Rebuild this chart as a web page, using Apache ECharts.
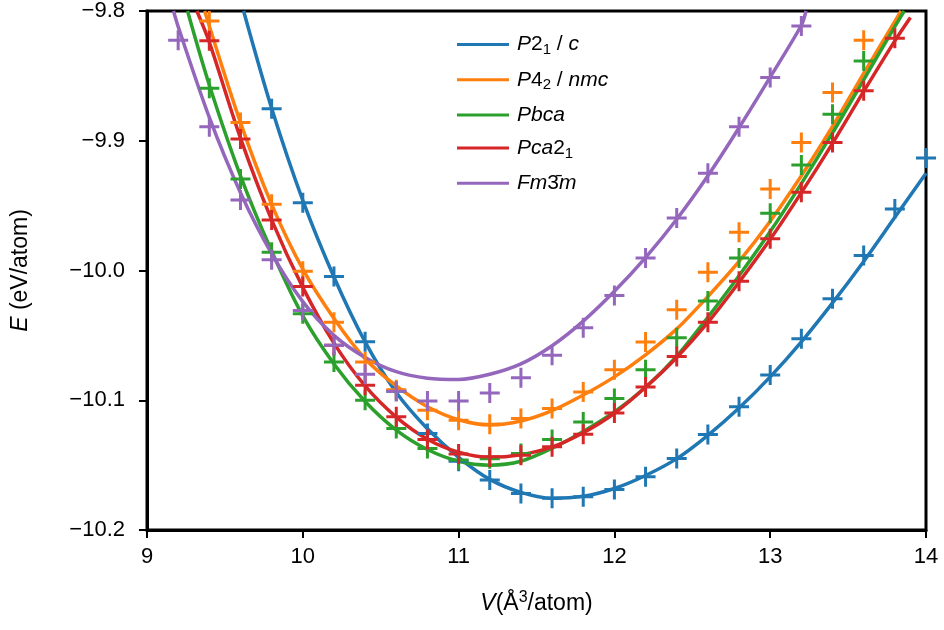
<!DOCTYPE html>
<html><head><meta charset="utf-8">
<script src="https://cdn.jsdelivr.net/npm/echarts@6/dist/echarts.min.js"></script>
<style>html,body{margin:0;padding:0;background:#fff}#c{width:944px;height:630px}</style>
</head><body><div id="c"></div>
<script>
// ---- data ----
const names = ['P21/c', 'P42/nmc', 'Pbca', 'Pca21', 'Fm-3m'];
const colors = ['#1f77b4', '#ff7f0e', '#2ca02c', '#d62728', '#9467bd'];
const legendLabels = [
  '{i|P}{n|2}{s|1}{n| / }{i|c}',
  '{i|P}{n|4}{s|2}{n| / }{i|nmc}',
  '{i|Pbca}',
  '{i|Pca}{n|2}{s|1}',
  '{i|Fm}{n|3\u0304}{i|m}'
];
const xTicks = [9, 10, 11, 12, 13, 14];
const yTicks = [-10.2, -10.1, -10.0, -9.9, -9.8];

// computed points (crosses)
const volumes = [9.2, 9.4, 9.6, 9.8, 10.0, 10.2, 10.4, 10.6, 10.8, 11.0, 11.2, 11.4, 11.6, 11.8, 12.0, 12.2, 12.4, 12.6, 12.8, 13.0, 13.2, 13.4, 13.6, 13.8, 14.0];
const ptsP21c = [null, null, null, -9.8754, -9.9477, -10.0046, -10.055, -10.093, -10.1256, -10.147, -10.1615, -10.1718, -10.1756, -10.1744, -10.1687, -10.159, -10.1449, -10.1264, -10.1051, -10.0805, -10.0526, -10.0218, -9.9885, -9.9526, -9.9133];
const ptsP42nmc = [null, -9.8077, -9.886, -9.949, -10.0005, -10.0398, -10.0705, -10.092, -10.1077, -10.1154, -10.1185, -10.114, -10.1064, -10.0936, -10.0764, -10.0551, -10.0302, -10.0013, -9.9705, -9.9372, -9.9013, -9.8628, -9.8226, null, null];
const ptsPbca = [null, -9.8595, -9.9295, -9.986, -10.0333, -10.0705, -10.1, -10.1218, -10.1372, -10.146, -10.145, -10.141, -10.1303, -10.1167, -10.0987, -10.0764, -10.0518, -10.0236, -9.9903, -9.9559, -9.9187, -9.8795, -9.8385, null, null];
const ptsPca21 = [null, -9.823, -9.8987, -9.961, -10.0123, -10.0577, -10.0885, -10.1128, -10.1303, -10.1415, -10.1436, -10.1423, -10.1359, -10.1262, -10.1098, -10.0897, -10.0662, -10.0398, -10.0083, -9.9756, -9.9397, -9.9013, -9.8615, -9.821, null];
const ptsFm3m = [-9.8226, -9.8892, -9.9456, -9.9918, -10.0308, -10.0577, -10.08, -10.093, -10.1005, -10.1005, -10.0944, -10.0826, -10.0654, -10.0441, -10.0192, -9.9903, -9.9595, -9.9251, -9.8892, -9.8513, -9.8115, null, null, null, null];

// fitted curves
const fitVP21c = [9.62, 9.8, 10.0, 10.2, 10.4, 10.6, 10.8, 11.0, 11.2, 11.4, 11.6, 11.8, 12.0, 12.2, 12.4, 12.6, 12.8, 13.0, 13.2, 13.4, 13.6, 13.8, 14.0];
const fitEP21c = [-9.800, -9.875, -9.946, -10.005, -10.055, -10.094, -10.122, -10.144, -10.161, -10.171, -10.1755, -10.174, -10.168, -10.158, -10.145, -10.127, -10.106, -10.082, -10.055, -10.025, -9.993, -9.959, -9.925];
const fitVP42nmc = [9.37, 9.6, 9.8, 10.0, 10.2, 10.4, 10.6, 10.8, 11.0, 11.2, 11.4, 11.6, 11.8, 12.0, 12.2, 12.4, 12.6, 12.8, 13.0, 13.2, 13.4, 13.6, 13.8, 13.84];
const fitEP42nmc = [-9.800, -9.886, -9.949, -9.999, -10.037, -10.068, -10.089, -10.105, -10.115, -10.119, -10.116, -10.108, -10.096, -10.082, -10.065, -10.045, -10.020, -9.993, -9.962, -9.927, -9.889, -9.848, -9.808, -9.800];
const fitVPbca = [9.26, 9.4, 9.6, 9.8, 10.0, 10.2, 10.4, 10.6, 10.8, 11.0, 11.2, 11.4, 11.6, 11.8, 12.0, 12.2, 12.4, 12.6, 12.8, 13.0, 13.2, 13.4, 13.6, 13.8, 13.86];
const fitEPbca = [-9.800, -9.857, -9.927, -9.985, -10.035, -10.072, -10.101, -10.123, -10.138, -10.147, -10.150, -10.147, -10.137, -10.124, -10.109, -10.090, -10.066, -10.036, -10.004, -9.970, -9.933, -9.894, -9.853, -9.812, -9.800];
const fitVPca21 = [9.32, 9.4, 9.6, 9.8, 10.0, 10.2, 10.4, 10.6, 10.8, 11.0, 11.2, 11.4, 11.6, 11.8, 12.0, 12.2, 12.4, 12.6, 12.8, 13.0, 13.2, 13.4, 13.6, 13.8, 13.9];
const fitEPca21 = [-9.800, -9.824, -9.898, -9.961, -10.013, -10.056, -10.089, -10.113, -10.130, -10.140, -10.144, -10.142, -10.136, -10.125, -10.110, -10.090, -10.067, -10.040, -10.009, -9.976, -9.940, -9.902, -9.862, -9.823, -9.805];
const fitVFm3m = [9.17, 9.2, 9.4, 9.6, 9.8, 10.0, 10.2, 10.4, 10.6, 10.8, 11.0, 11.2, 11.4, 11.6, 11.8, 12.0, 12.2, 12.4, 12.6, 12.8, 13.0, 13.2, 13.23];
const fitEFm3m = [-9.800, -9.812, -9.882, -9.940, -9.987, -10.024, -10.050, -10.067, -10.078, -10.083, -10.084, -10.080, -10.072, -10.058, -10.039, -10.016, -9.990, -9.9605, -9.927, -9.890, -9.851, -9.811, -9.800];

const pointSets = [ptsP21c, ptsP42nmc, ptsPbca, ptsPca21, ptsFm3m];
const fitV = [fitVP21c, fitVP42nmc, fitVPbca, fitVPca21, fitVFm3m];
const fitE = [fitEP21c, fitEP42nmc, fitEPbca, fitEPca21, fitEFm3m];

// ---- chart ----
const FONT = '"Liberation Sans", Arial, Helvetica, sans-serif';
const FS = 22;
const chart = echarts.init(document.getElementById('c'), null, {renderer: 'canvas'});
const plus = 'path://M0,8.5h20v3h-20zM8.5,0h3v20h-3z';
const minusFmt = v => (v < 0 ? '\u2212' : '') + Math.abs(v).toFixed(1);

const series = [];
names.forEach((n, i) => {
  series.push({
    name: n, type: 'line', smooth: 0.3, showSymbol: false, clip: true,
    data: fitV[i].map((v, k) => [v, fitE[i][k]]),
    lineStyle: {color: colors[i], width: 3.5}, itemStyle: {color: colors[i]},
    z: 2
  });
  series.push({
    name: n, type: 'scatter', symbol: plus, symbolSize: 20, clip: true,
    data: volumes.map((v, k) => pointSets[i][k] == null ? null : [v, pointSets[i][k]]).filter(d => d),
    itemStyle: {color: colors[i], opacity: 1},
    z: 3
  });
});

const richBase = {
  i: {fontStyle: 'italic', fontSize: 21, fontFamily: FONT, color: '#000', lineHeight: 26},
  n: {fontSize: 21, fontFamily: FONT, color: '#000', lineHeight: 26},
  s: {fontSize: 15, fontFamily: FONT, color: '#000', lineHeight: 15, verticalAlign: 'bottom'},
  sup: {fontSize: 16, fontFamily: FONT, color: '#000', lineHeight: 16, verticalAlign: 'top'}
};
const richAxis = {
  i: {fontStyle: 'italic', fontSize: 23, fontFamily: FONT, color: '#000', lineHeight: 28},
  n: {fontSize: 23, fontFamily: FONT, color: '#000', lineHeight: 28},
  sup: {fontSize: 16, fontFamily: FONT, color: '#000', lineHeight: 16, verticalAlign: 'top'}
};

chart.setOption({
  animation: false,
  backgroundColor: '#fff',
  grid: {left: 147, right: 18, top: 10, bottom: 100, show: true, borderColor: '#000', borderWidth: 3, backgroundColor: 'transparent'},
  legend: {
    orient: 'vertical', left: 452, top: 29, itemWidth: 52, itemHeight: 3, itemGap: 11.8, icon: 'rect',
    data: names,
    formatter: n => legendLabels[names.indexOf(n)],
    textStyle: {rich: richBase, padding: [0, 0, 0, 3]},
    selectedMode: false
  },
  xAxis: {
    type: 'value', min: xTicks[0], max: xTicks[xTicks.length - 1], interval: 1,
    axisLine: {show: true, lineStyle: {color: '#000', width: 3}},
    axisTick: {show: true, length: 8, lineStyle: {color: '#000', width: 2}},
    axisLabel: {margin: 16, fontSize: FS, color: '#000', fontFamily: FONT},
    splitLine: {show: false},
    name: '{i|V}{n|(Å}{sup|3}{n|/atom)}', nameLocation: 'middle', nameGap: 60,
    nameTextStyle: {rich: richAxis}
  },
  yAxis: {
    type: 'value', min: yTicks[0], max: yTicks[yTicks.length - 1], interval: 0.1,
    axisLine: {show: true, lineStyle: {color: '#000', width: 3}},
    axisTick: {show: true, length: 8, lineStyle: {color: '#000', width: 2}},
    axisLabel: {margin: 22, fontSize: FS, color: '#000', fontFamily: FONT, formatter: minusFmt},
    splitLine: {show: false},
    name: '{i|E}{n| (eV/atom)}', nameLocation: 'middle', nameGap: 112, nameRotate: 90,
    nameTextStyle: {rich: richAxis}
  },
  series: series
});
</script></body></html>
